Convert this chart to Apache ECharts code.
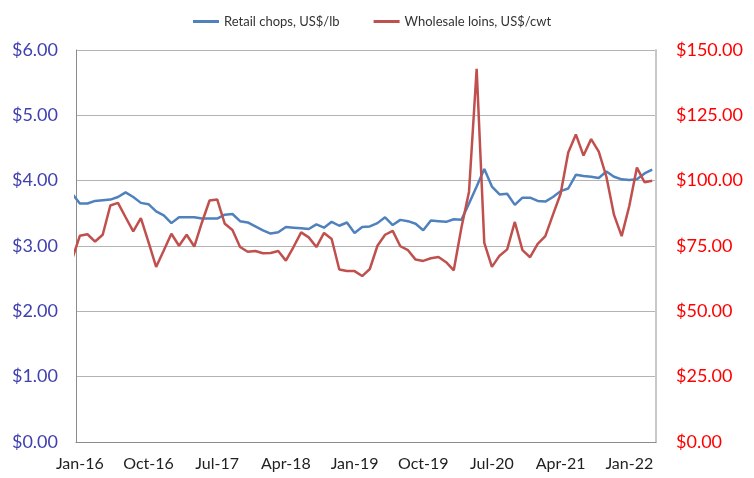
<!DOCTYPE html>
<html>
<head>
<meta charset="utf-8">
<script src="https://cdn.jsdelivr.net/npm/echarts@6/dist/echarts.min.js"></script>
<style>
  html, body { margin: 0; padding: 0; background: #fff; }
  #chart { width: 754px; height: 478px; }
</style>
</head>
<body>
<div id="chart"></div>
<script>
// months, Dec-15 .. Apr-22 (Dec-15 sits left of the axis and gets clipped)
var months = [
  'Dec-15',
  'Jan-16','Feb-16','Mar-16','Apr-16','May-16','Jun-16','Jul-16','Aug-16','Sep-16','Oct-16','Nov-16','Dec-16',
  'Jan-17','Feb-17','Mar-17','Apr-17','May-17','Jun-17','Jul-17','Aug-17','Sep-17','Oct-17','Nov-17','Dec-17',
  'Jan-18','Feb-18','Mar-18','Apr-18','May-18','Jun-18','Jul-18','Aug-18','Sep-18','Oct-18','Nov-18','Dec-18',
  'Jan-19','Feb-19','Mar-19','Apr-19','May-19','Jun-19','Jul-19','Aug-19','Sep-19','Oct-19','Nov-19','Dec-19',
  'Jan-20','Feb-20','Mar-20','Apr-20','May-20','Jun-20','Jul-20','Aug-20','Sep-20','Oct-20','Nov-20','Dec-20',
  'Jan-21','Feb-21','Mar-21','Apr-21','May-21','Jun-21','Jul-21','Aug-21','Sep-21','Oct-21','Nov-21','Dec-21',
  'Jan-22','Feb-22','Mar-22','Apr-22'
];

// retail chops, US$/lb
var retailChops = [
  3.80,
  3.65, 3.65, 3.69, 3.70, 3.71, 3.75, 3.82, 3.75, 3.66, 3.64, 3.53, 3.47,
  3.35, 3.44, 3.44, 3.44, 3.42, 3.42, 3.42, 3.48, 3.49, 3.38, 3.36, 3.30,
  3.24, 3.19, 3.21, 3.29, 3.28, 3.27, 3.26, 3.33, 3.28, 3.37, 3.31, 3.36,
  3.20, 3.29, 3.30, 3.35, 3.44, 3.32, 3.40, 3.38, 3.34, 3.24, 3.39, 3.38,
  3.37, 3.41, 3.40, 3.65, 3.91, 4.18, 3.91, 3.79, 3.80, 3.63, 3.74, 3.74,
  3.69, 3.68, 3.75, 3.84, 3.88, 4.09, 4.07, 4.06, 4.04, 4.14, 4.06, 4.02,
  4.01, 4.02, 4.11, 4.17
];

// wholesale loins, US$/cwt
var wholesaleLoins = [
  70.0,
  78.9, 79.5, 76.7, 79.3, 90.5, 91.5, 86.0, 80.6, 85.7, 76.5, 67.0, 73.3,
  79.7, 75.1, 79.3, 74.8, 84.0, 92.4, 92.8, 83.5, 81.1, 74.6, 72.8, 73.1,
  72.2, 72.3, 73.1, 69.4, 74.6, 80.2, 78.3, 74.6, 80.0, 77.7, 66.0, 65.4,
  65.4, 63.5, 66.2, 75.1, 79.3, 80.8, 74.9, 73.4, 69.8, 69.3, 70.3, 70.8,
  68.8, 65.7, 82.0, 95.8, 142.8, 76.2, 67.0, 71.3, 73.7, 84.2, 73.4, 70.7,
  75.8, 78.8, 87.0, 95.0, 110.8, 117.7, 109.6, 115.9, 111.1, 101.5, 86.9, 78.8,
  90.3, 105.0, 99.4, 100.0
];

// x axis labels, every 9 months
var tickLabels = ['Jan-16', 'Oct-16', 'Jul-17', 'Apr-18', 'Jan-19', 'Oct-19', 'Jul-20', 'Apr-21', 'Jan-22'];

var tickPos = tickLabels.map(function (m) { return months.indexOf(m); });
function pairs(arr) {
  return arr.map(function (v, i) { return [i, v]; });
}

var chart = echarts.init(document.getElementById('chart'));
chart.setOption({
  animation: false,
  textStyle: { fontFamily: 'Lato' },
  legend: {
    top: 10,
    left: 188,
    icon: 'rect',
    itemWidth: 26,
    itemHeight: 3,
    itemGap: 34,
    textStyle: { fontSize: 13, color: '#333', fontFamily: 'Lato' },
    data: ['Retail chops, US$/lb', 'Wholesale loins, US$/cwt']
  },
  grid: { left: 76, right: 98, top: 50, bottom: 36 },
  xAxis: {
    type: 'value',
    min: 0.5,
    max: 76.5,
    axisLine: { lineStyle: { color: '#8c8c8c', width: 1 } },
    axisTick: { show: false },
    splitLine: { show: false },
    axisLabel: {
      customValues: tickPos,
      margin: 14,
      fontSize: 16,
      color: '#222',
      fontFamily: 'Lato',
      formatter: function (v) { return months[Math.round(v)]; }
    }
  },
  yAxis: [{
    type: 'value',
    min: 0,
    max: 6,
    interval: 1,
    axisLine: { show: true, lineStyle: { color: '#8c8c8c' } },
    axisTick: { show: false },
    splitLine: { lineStyle: { color: '#b4b4b4' } },
    axisLabel: {
      margin: 18,
      fontSize: 18,
      color: '#4040b0',
      fontFamily: 'Lato',
      formatter: function (v) { return '$' + v.toFixed(2); }
    }
  }, {
    type: 'value',
    min: 0,
    max: 150,
    interval: 25,
    position: 'right',
    axisLine: { show: true, lineStyle: { color: '#c8c8c8', width: 2 } },
    axisTick: { show: false },
    splitLine: { show: false },
    axisLabel: {
      margin: 20,
      fontSize: 18,
      color: '#ff0000',
      fontFamily: 'Lato',
      formatter: function (v) { return '$' + v.toFixed(2); }
    }
  }],
  series: [{
    name: 'Retail chops, US$/lb',
    type: 'line',
    yAxisIndex: 0,
    showSymbol: false,
    clip: true,
    lineStyle: { color: '#4f81bd', width: 2.5 },
    itemStyle: { color: '#4f81bd' },
    data: pairs(retailChops)
  }, {
    name: 'Wholesale loins, US$/cwt',
    type: 'line',
    yAxisIndex: 1,
    showSymbol: false,
    clip: true,
    lineStyle: { color: '#c0504d', width: 2.5 },
    itemStyle: { color: '#c0504d' },
    data: pairs(wholesaleLoins)
  }]
});
</script>
</body>
</html>
